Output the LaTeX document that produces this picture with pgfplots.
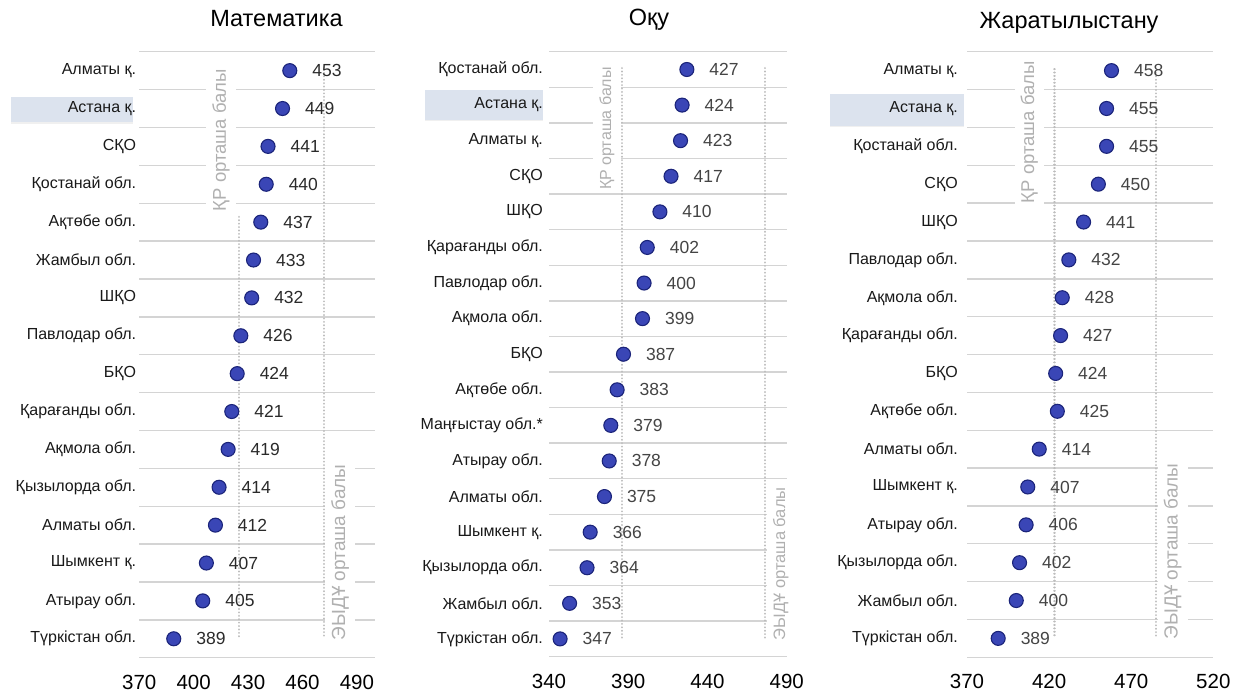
\documentclass[border=0pt]{standalone}
\usepackage{fontspec}
\setmainfont{Liberation Sans}
\usepackage{pgfplots}
\pgfplotsset{compat=1.18}
\definecolor{dotfill}{HTML}{3A46B6}
\definecolor{dotedge}{HTML}{1B247A}
\definecolor{gridc}{HTML}{D4D4D4}
\definecolor{refc}{HTML}{BDBDBD}
\definecolor{reftext}{HTML}{B0B0B0}
\definecolor{hilite}{HTML}{DCE3EE}
\definecolor{numc}{HTML}{2A2A2A}
\definecolor{numc2}{HTML}{444444}

\tikzset{reflabel/.style={rotate=90, fill=white, inner xsep=3pt, inner ysep=6pt, text=reftext, font=\fontsize{#1}{#1}\selectfont}}

\pgfplotsset{
  panel/.style={
    scale only axis, clip=false, y dir=reverse,
    axis line style={draw=none}, tick style={draw=none},
    major tick length=0pt, minor tick length=0pt,
    ymajorgrids=false, yminorgrids=true, xmajorgrids=false,
    minor grid style={draw=gridc, line width=1.4pt},
    yticklabel style={font=\fontsize{16}{16}\selectfont, anchor=east, inner sep=0pt, text=black!90},
    xticklabel style={font=\fontsize{20.5}{21}\selectfont, anchor=north, inner sep=0pt, yshift=-17pt},
    /pgf/number format/assume math mode=true,
    /pgf/number format/1000 sep={},
  },
  dots/.style={only marks, mark=*, mark size=7pt,
    mark options={fill=dotfill, draw=dotedge, line width=1.1pt},
    point meta=x, nodes near coords,
    nodes near coords style={anchor=west, inner sep=0pt, xshift=22pt, font=\fontsize{17.5}{17.5}\selectfont, text=#1}},
  refline/.style={no marks, draw=refc, line width=2.2pt, line cap=round, dash pattern=on 0.01pt off 3.4pt, forget plot},
}

\begin{document}
\begin{tikzpicture}
\path[use as bounding box] (0pt,0pt) rectangle (1236pt,694pt);
% highlight boxes
\fill[black!6] (11pt,570.2pt) rectangle (133pt,595.8pt);
\fill[hilite] (11pt,571.7pt) rectangle (133pt,597.3pt);
\fill[black!6] (425pt,572.5pt) rectangle (543pt,602.5pt);
\fill[hilite] (425pt,574pt) rectangle (543pt,604pt);
\fill[black!6] (830pt,566.5pt) rectangle (964pt,598.2pt);
\fill[hilite] (830pt,568pt) rectangle (964pt,599.7pt);
% titles
\node[font=\fontsize{23.5}{24}\selectfont, anchor=base] at (276.5pt,667pt) {Математика};
\node[font=\fontsize{23.5}{24}\selectfont, anchor=base] at (649pt,668pt) {Оқу};
\node[font=\fontsize{23.5}{24}\selectfont, anchor=base] at (1069pt,665.7pt) {Жаратылыстану};

% ---------- Panel 1
\begin{axis}[panel, at={(139.3pt,36.3pt)}, anchor=south west,
  width=235.7pt, height=606pt, xmin=370, xmax=500, ymin=0.5, ymax=16.5,
  xtick={370,400,430,460,490}, ytick={1,...,16}, minor ytick={0.5,1.5,...,16.5},
  yticklabel style={xshift=-3pt},
  yticklabels={Алматы қ.,Астана қ.,СҚО,Қостанай обл.,Ақтөбе обл.,Жамбыл обл.,ШҚО,Павлодар обл.,БҚО,Қарағанды обл.,Ақмола обл.,Қызылорда обл.,Алматы обл.,Шымкент қ.,Атырау обл.,Түркістан обл.}]
\node[reflabel=18.5] at (axis cs:415.1,2.84) {ҚР орташа балы};
\node[reflabel=19] at (axis cs:480.7,13.72) {ЭЫДҰ орташа балы};
\addplot[refline] coordinates {(425,4.86) (425,16)};
\addplot[refline] coordinates {(472,1.06) (472,16)};
\addplot[dots=numc] coordinates {
(453,1) (449,2) (441,3) (440,4) (437,5) (433,6) (432,7) (426,8)
(424,9) (421,10) (419,11) (414,12) (412,13) (407,14) (405,15) (389,16)};
\end{axis}

% ---------- Panel 2
\begin{axis}[panel, at={(549pt,37.3pt)}, anchor=south west,
  width=237.7pt, height=605pt, xmin=340, xmax=490, ymin=0.5, ymax=17.5,
  xtick={340,390,440,490}, ytick={1,...,17}, minor ytick={0.5,1.5,...,17.5},
  yticklabel style={xshift=-6pt},
  yticklabels={Қостанай обл.,Астана қ.,Алматы қ.,СҚО,ШҚО,Қарағанды обл.,Павлодар обл.,Ақмола обл.,БҚО,Ақтөбе обл.,Маңғыстау обл.*,Атырау обл.,Алматы обл.,Шымкент қ.,Қызылорда обл.,Жамбыл обл.,Түркістан обл.}]
\node[reflabel=16] at (axis cs:376.6,2.66) {ҚР орташа балы};
\node[reflabel=16.5] at (axis cs:486.3,14.89) {ЭЫДҰ орташа балы};
\addplot[refline] coordinates {(386.2,0.96) (386.2,17)};
\addplot[refline] coordinates {(476.2,0.96) (476.2,17)};
\addplot[dots=numc2] coordinates {
(427,1) (424,2) (423,3) (417,4) (410,5) (402,6) (400,7) (399,8) (387,9)
(383,10) (379,11) (378,12) (375,13) (366,14) (364,15) (353,16) (347,17)};
\end{axis}

% ---------- Panel 3
\begin{axis}[panel, at={(967pt,36.7pt)}, anchor=south west,
  width=246.3pt, height=605.6pt, xmin=370, xmax=520, ymin=0.5, ymax=16.5,
  xtick={370,420,470,520}, ytick={1,...,16}, minor ytick={0.5,1.5,...,16.5},
  yticklabel style={xshift=-9pt},
  yticklabels={Алматы қ.,Астана қ.,Қостанай обл.,СҚО,ШҚО,Павлодар обл.,Ақмола обл.,Қарағанды обл.,БҚО,Ақтөбе обл.,Алматы обл.,Шымкент қ.,Атырау обл.,Қызылорда обл.,Жамбыл обл.,Түркістан обл.}]
\node[reflabel=18.5] at (axis cs:407.9,2.63) {ҚР орташа балы};
\node[reflabel=19] at (axis cs:495.2,13.7) {ЭЫДҰ орташа балы};
\addplot[refline] coordinates {(423.3,0.96) (423.3,16)};
\addplot[refline] coordinates {(485.2,1.06) (485.2,16)};
\addplot[dots=numc2] coordinates {
(458,1) (455,2) (455,3) (450,4) (441,5) (432,6) (428,7) (427,8)
(424,9) (425,10) (414,11) (407,12) (406,13) (402,14) (400,15) (389,16)};
\end{axis}
\end{tikzpicture}
\end{document}
